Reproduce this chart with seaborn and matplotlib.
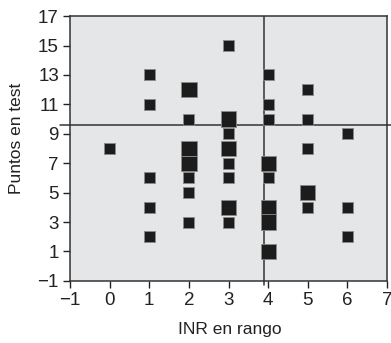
import pandas as pd
import seaborn as sns
import matplotlib.pyplot as plt

# INR in range vs. test score; "big" marks overlapping points
inr = [0, 1, 1, 1, 1, 1,
       2, 2, 2, 2, 2, 2, 2,
       3, 3, 3, 3, 3, 3, 3, 3,
       4, 4, 4, 4, 4, 4, 4, 4,
       5, 5, 5, 5, 5,
       6, 6, 6]
puntos = [8, 13, 11, 6, 4, 2,
          12, 10, 8, 7, 6, 5, 3,
          15, 10, 9, 8, 7, 6, 4, 3,
          13, 11, 10, 7, 6, 4, 3, 1,
          12, 10, 8, 5, 4,
          9, 4, 2]
big = [0, 0, 0, 0, 0, 0,
       1, 0, 1, 1, 0, 0, 0,
       0, 1, 0, 1, 0, 0, 1, 0,
       0, 0, 0, 1, 0, 1, 1, 1,
       0, 0, 0, 1, 0,
       0, 0, 0]
x_cut = 3.9
y_cut = 9.6
x_ticks = list(range(-1, 8))
y_ticks = list(range(-1, 18, 2))

df = pd.DataFrame({"INR": inr, "Puntos": puntos, "big": big})

sns.set_style("ticks")
plt.rcParams["font.family"] = ["Liberation Sans Narrow", "Liberation Sans", "DejaVu Sans"]

fig = plt.figure(figsize=(3.91, 3.43), dpi=100)
ax = fig.add_axes([0.179, 0.181, 0.811, 0.772])
ax.set_facecolor("#e5e6e8")

sns.scatterplot(data=df, x="INR", y="Puntos", size="big", sizes={0: 62, 1: 120},
                marker="s", color="#1c1c1c", edgecolor="#8a8a8a", linewidth=0.6,
                legend=False, ax=ax, zorder=3)

ax.set_xlim(-1, 7)
ax.set_ylim(-1, 17)
ax.axvline(x_cut, color="#333333", lw=1.1, zorder=2)
ax.axhline(y_cut, color="#333333", lw=1.1, zorder=2)
# lines run slightly past the frame in the original
ax.plot([x_cut, x_cut], [-1, -1.3], color="#333333", lw=1.1, clip_on=False)
ax.plot([-1.25, -1], [y_cut, y_cut], color="#333333", lw=1.1, clip_on=False)
ax.plot([7, 7.1], [y_cut, y_cut], color="#333333", lw=1.1, clip_on=False)

ax.set_xticks(x_ticks)
ax.set_yticks(y_ticks)
ax.set_xticklabels([str(t).replace("-", "\u2212") for t in x_ticks])
ax.set_yticklabels([str(t).replace("-", "\u2212") for t in y_ticks])
ax.tick_params(direction="out", length=5, width=1, colors="#222222",
               labelsize=13.5, pad=3)
for s in ax.spines.values():
    s.set_color("#333333")
    s.set_linewidth(1.1)

ax.set_xlabel("INR en rango", fontsize=12.5, color="#222222")
ax.set_ylabel("Puntos en test", fontsize=12.5, color="#222222")
ax.xaxis.set_label_coords(0.505, -0.155)
ax.yaxis.set_label_coords(-0.145, 0.54)

fig.savefig("out.png", dpi=100)
